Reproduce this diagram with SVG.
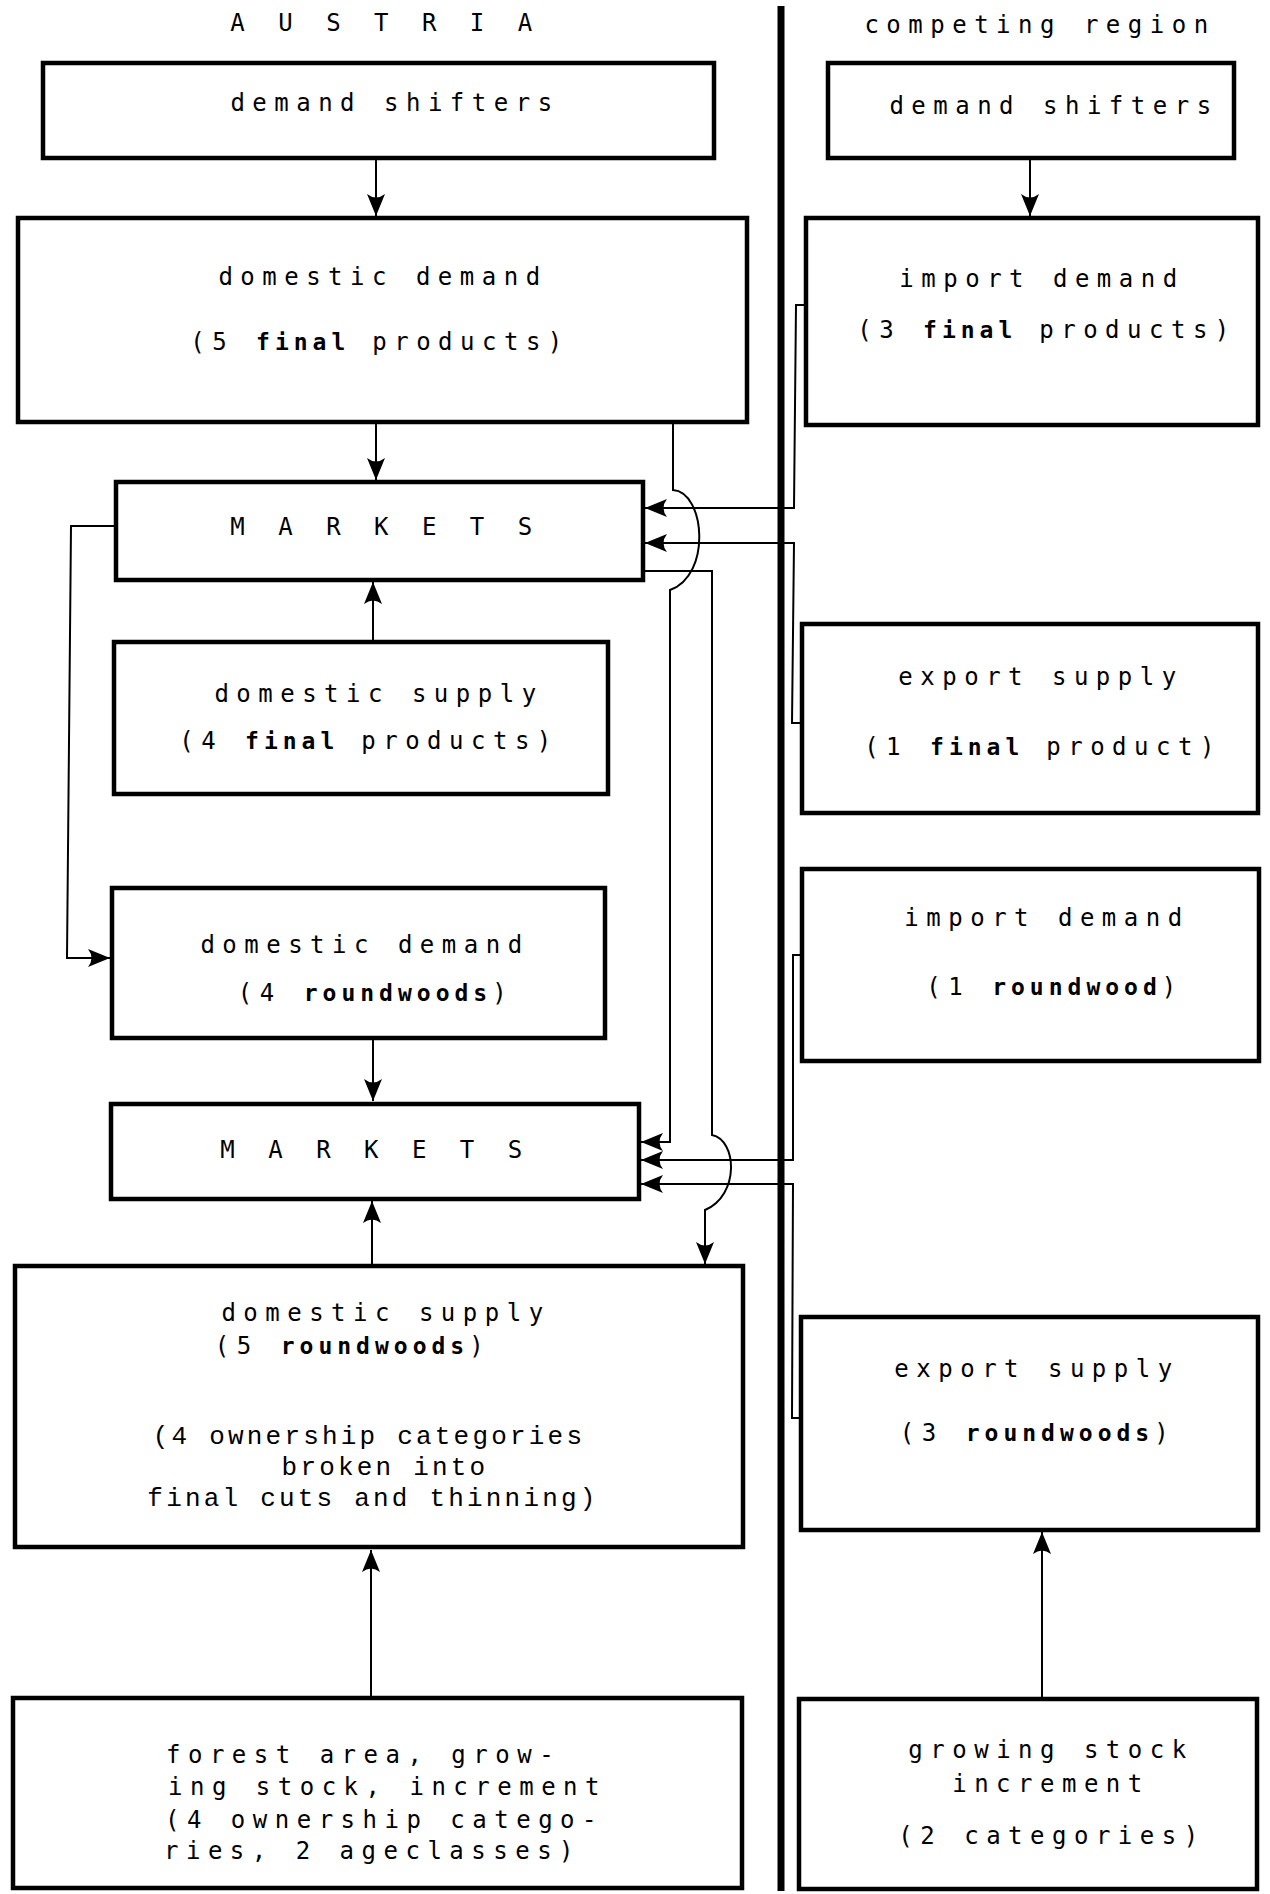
<svg xmlns="http://www.w3.org/2000/svg" width="1270" height="1894" viewBox="0 0 1270 1894">
<style>
.box{fill:#fff;stroke:#000;stroke-width:4.5}
.ln{fill:none;stroke:#000;stroke-width:2}
.arr{marker-end:url(#ah)}
.t{font-family:"DejaVu Sans Mono",monospace;font-size:24px;letter-spacing:7.5px;fill:#000;text-anchor:middle}
.sp{letter-spacing:9.5px}
.b{font-weight:bold;font-size:23px;letter-spacing:5px}
.c{font-family:"Liberation Mono",monospace;font-size:26px;letter-spacing:3.2px;fill:#000;text-anchor:middle}
.l{text-anchor:start}
</style>
<defs>
<marker id="ah" markerUnits="userSpaceOnUse" markerWidth="24" markerHeight="20" refX="22" refY="10" orient="auto">
<path d="M0,1 Q7,10 0,19 L22,10 Z" fill="#000"/>
</marker>
</defs>
<rect width="1270" height="1894" fill="#fff"/>
<line x1="781" y1="6" x2="781" y2="1891" stroke="#000" stroke-width="7"/>
<text class="t sp" x="386" y="31">A U S T R I A</text>
<text class="t" x="1040" y="33">competing region</text>

<g id="connectors">
<path class="ln arr" d="M376,158 V216"/>
<path class="ln arr" d="M376,422 V480"/>
<path class="ln arr" d="M373,642 V582"/>
<path class="ln arr" d="M116,526 H71 L67,958 H110"/>
<path class="ln arr" d="M373,1038 V1101"/>
<path class="ln arr" d="M372,1265 V1201"/>
<path class="ln arr" d="M371,1698 V1550"/>
<path class="ln arr" d="M1042,1699 V1532"/>
<path class="ln arr" d="M1030,158 V216"/>
<path class="ln arr" d="M673,422 V490 C705,492 712,575 670,590 V1142 H641"/>
<path class="ln arr" d="M643,571 H712 V1135 C737,1140 740,1195 705,1210 V1264"/>
<path class="ln arr" d="M806,305 H796 L794,508 H645"/>
<path class="ln arr" d="M802,723 H792 L794,543 H645"/>
<path class="ln arr" d="M802,955 H793 V1160 H641"/>
<path class="ln arr" d="M802,1418 H792 L793,1184 H641"/>
</g>

<g id="at-demand-shifters"><rect class="box" x="43" y="63" width="671" height="95"/><text class="t" x="395" y="111">demand shifters</text></g>
<g id="at-domestic-demand-final"><rect class="box" x="18" y="218" width="729" height="204"/><text class="t" x="383" y="285">domestic demand</text><text class="t" x="380" y="350">(5 <tspan class="b">final</tspan> products)</text></g>
<g id="at-markets-final"><rect class="box" x="116" y="482" width="527" height="98"/><text class="t sp" x="386" y="535">M A R K E T S</text></g>
<g id="at-domestic-supply-final"><rect class="box" x="114" y="642" width="494" height="152"/><text class="t" x="379" y="702">domestic supply</text><text class="t" x="369" y="749">(4 <tspan class="b">final</tspan> products)</text></g>
<g id="at-domestic-demand-rw"><rect class="box" x="112" y="888" width="493" height="150"/><text class="t" x="365" y="953">domestic demand</text><text class="t" x="376" y="1001">(4 <tspan class="b">roundwoods</tspan>)</text></g>
<g id="at-markets-rw"><rect class="box" x="111" y="1104" width="528" height="95"/><text class="t sp" x="376" y="1158">M A R K E T S</text></g>
<g id="at-domestic-supply-rw"><rect class="box" x="15" y="1266" width="728" height="281"/><text class="t" x="386" y="1321">domestic supply</text><text class="t" x="353" y="1354">(5 <tspan class="b">roundwoods</tspan>)</text><text class="c" x="369" y="1444">(4 ownership categories</text><text class="c" x="385" y="1475">broken into</text><text class="c" x="373" y="1506">final cuts and thinning)</text></g>
<g id="at-forest"><rect class="box" x="13" y="1698" width="729" height="190"/><text class="t l" x="166" y="1763">forest area, grow-</text><text class="t l" x="168" y="1795">ing stock, increment</text><text class="t l" x="165" y="1828">(4 ownership catego-</text><text class="t l" x="164" y="1859">ries, 2 ageclasses)</text></g>

<g id="cr-demand-shifters"><rect class="box" x="828" y="63" width="406" height="95"/><text class="t" x="1054" y="114">demand shifters</text></g>
<g id="cr-import-demand-final"><rect class="box" x="806" y="218" width="452" height="207"/><text class="t" x="1042" y="287">import demand</text><text class="t" x="1047" y="338">(3 <tspan class="b">final</tspan> products)</text></g>
<g id="cr-export-supply-final"><rect class="box" x="802" y="624" width="456" height="189"/><text class="t" x="1041" y="685">export supply</text><text class="t" x="1043" y="755">(1 <tspan class="b">final</tspan> product)</text></g>
<g id="cr-import-demand-rw"><rect class="box" x="802" y="869" width="457" height="192"/><text class="t" x="1047" y="926">import demand</text><text class="t" x="1055" y="995">(1 <tspan class="b">roundwood</tspan>)</text></g>
<g id="cr-export-supply-rw"><rect class="box" x="801" y="1317" width="457" height="213"/><text class="t" x="1037" y="1377">export supply</text><text class="t" x="1038" y="1441">(3 <tspan class="b">roundwoods</tspan>)</text></g>
<g id="cr-growing-stock"><rect class="box" x="799" y="1699" width="458" height="190"/><text class="t" x="1051" y="1758">growing stock</text><text class="t" x="1051" y="1792">increment</text><text class="t" x="1052" y="1844">(2 categories)</text></g>
</svg>
